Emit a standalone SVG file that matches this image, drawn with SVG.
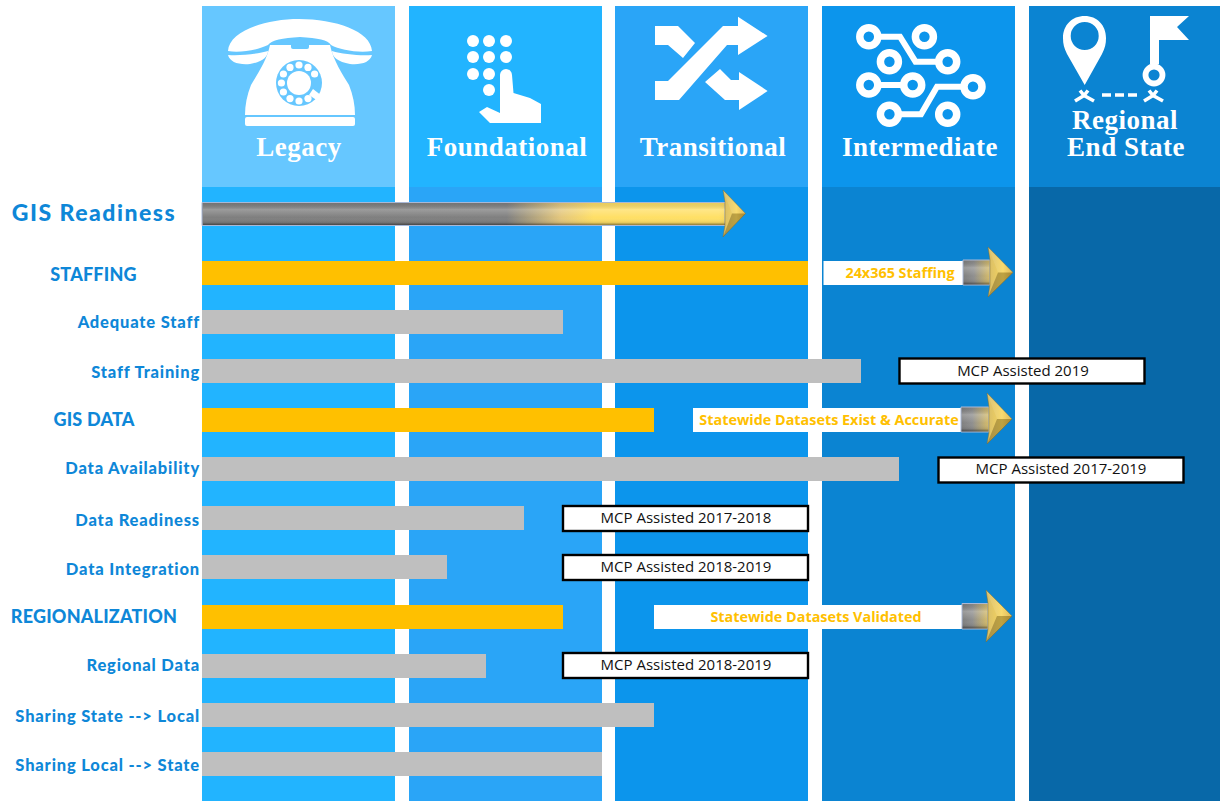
<svg xmlns="http://www.w3.org/2000/svg" width="1220" height="801" viewBox="0 0 1220 801">
<style>
.hd{font:700 27px "Liberation Serif",serif;fill:#fff;text-anchor:middle;letter-spacing:.5px}
.lb{font:900 16.5px "Lato","Liberation Sans",sans-serif;fill:#0E87D8;text-anchor:end;letter-spacing:.82px}
.sec{font:900 18px "Lato","Liberation Sans",sans-serif;fill:#0E87D8;text-anchor:middle;letter-spacing:.2px}
.gold{font:700 14.400px "Open Sans","Liberation Sans",sans-serif;fill:#FFC000;text-anchor:middle}
.mcp{font:400 15px "Open Sans","Liberation Sans",sans-serif;fill:#111;text-anchor:middle}
.or{fill:#FFC000}.gr{fill:#BFBFBF}.wh{fill:#fff}
.box{fill:#fff;stroke:#000;stroke-width:2.4}
.ic{fill:#fff}
.shaft{stroke:#A9B8D6;stroke-width:1}
.head{stroke:#7D6A2E;stroke-opacity:.45;stroke-width:1;fill:url(#headG)}
.light{fill:#fff;fill-opacity:.1}.dark{fill:#3A2A00;fill-opacity:.3}
</style>
<defs>
<linearGradient id="mainG" gradientUnits="userSpaceOnUse" x1="202" y1="0" x2="746" y2="0">
<stop offset="0" stop-color="#7F7F7F"/><stop offset=".56" stop-color="#808080"/><stop offset=".66" stop-color="#E4C77C"/><stop offset=".72" stop-color="#FFDF66"/><stop offset=".95" stop-color="#FFE066"/><stop offset="1" stop-color="#E8C04A"/>
</linearGradient>
<linearGradient id="bev" x1="0" y1="0" x2="0" y2="1">
<stop offset="0" stop-color="#000" stop-opacity=".08"/><stop offset=".3" stop-color="#fff" stop-opacity=".22"/><stop offset=".65" stop-color="#fff" stop-opacity="0"/><stop offset=".88" stop-color="#000" stop-opacity=".08"/><stop offset="1" stop-color="#000" stop-opacity=".45"/>
</linearGradient>
<linearGradient id="smG" x1="0" y1="0" x2="1" y2="0">
<stop offset="0" stop-color="#7F7F7F"/><stop offset=".4" stop-color="#8F8F8F"/><stop offset="1" stop-color="#D6BC68"/>
</linearGradient>
<linearGradient id="headG" x1="0" y1="0" x2="1" y2="0">
<stop offset="0" stop-color="#D6BC68"/><stop offset=".6" stop-color="#F7D65F"/><stop offset="1" stop-color="#D9B048"/>
</linearGradient>
</defs>

<g id="columns">
<rect x="202" y="6" width="193" height="181" fill="#66C7FF"/><rect x="202" y="187" width="193" height="614" fill="#22B4FF"/>
<rect x="409" y="6" width="193" height="181" fill="#22B4FF"/><rect x="409" y="187" width="193" height="614" fill="#2AA5F7"/>
<rect x="615" y="6" width="193" height="181" fill="#2AA5F7"/><rect x="615" y="187" width="193" height="614" fill="#0C95EC"/>
<rect x="822" y="6" width="193" height="181" fill="#0C95EC"/><rect x="822" y="187" width="193" height="614" fill="#0B84D2"/>
<rect x="1029" y="6" width="191" height="181" fill="#0B84D2"/><rect x="1029" y="187" width="191" height="614" fill="#0868A8"/>
</g>

<g id="legacy">
<path class="ic" d="M228,51C229,31 265,19 299,19C335,19 371,31 372,51C358,53 340,50 331,45C328,40 318,38 300,37C282,38 272,40 268,45C258,50 240,53 228,51Z"/>
<path class="ic" d="M228,55C240,56 258,54 268,51C268,57 262,62 250,64C238,65 230,62 228,55Z"/>
<path class="ic" d="M372,55C360,56 342,54 332,51C332,57 338,62 350,64C362,65 370,62 372,55Z"/>
<path class="ic" d="M270,45L330,45C333,60 343,75 349,85C353,95 355,105 355,115L245,115C245,105 247,95 251,85C257,75 267,60 270,45Z"/>
<rect class="ic" x="245" y="117" width="110" height="9" rx="2"/>
<rect x="291" y="38" width="18" height="11" rx="2" fill="#66C7FF"/>
<circle cx="299" cy="83" r="23" fill="#66C7FF"/>
<g class="ic">
<circle cx="299" cy="65" r="3.600"/><circle cx="308" cy="67.400" r="3.600"/><circle cx="314.600" cy="74" r="3.600"/><circle cx="281.400" cy="83" r="3.600"/><circle cx="283.400" cy="74" r="3.600"/><circle cx="290" cy="67.400" r="3.600"/><circle cx="283.400" cy="92" r="3.600"/><circle cx="290" cy="98.600" r="3.600"/><circle cx="299" cy="101" r="3.600"/><circle cx="308" cy="98.600" r="3.600"/>
<path d="M313,89L322,96L318,101L309,95Z"/>
<circle cx="299" cy="83" r="12"/>
</g>
<text class="hd" x="299" y="155.500">Legacy</text>
</g>

<g id="foundational">
<g class="ic">
<circle cx="473" cy="41" r="6"/><circle cx="489" cy="41" r="6"/><circle cx="506" cy="41" r="6"/>
<circle cx="473" cy="57" r="6"/><circle cx="489" cy="57" r="6"/><circle cx="506" cy="57" r="6"/>
<circle cx="473" cy="74" r="6"/><circle cx="489" cy="74" r="6"/><circle cx="489" cy="90" r="6"/>
<path d="M500,75A6,6 0 0 1 512,75L513.500,93L530,98L541,104L541,123L490,123L479,112L487,107L500,113Z"/>
</g>
<text class="hd" x="507" y="155.500">Foundational</text>
</g>

<g id="transitional">
<g class="ic">
<path d="M655,81L655,100L679,100L727,45L738,45L738,55L767.600,36L738,16.700L738,26L723,26L668,81Z"/>
<path d="M655,26L678,26L695,43L683,58L668,45L655,45Z"/>
<path d="M705,82L720,69L731,80L739,80L739,72L767.600,91L739,110L739,100L725,100Z"/>
</g>
<text class="hd" x="713" y="155.500">Transitional</text>
</g>

<g id="intermediate">
<g fill="none" stroke="#fff" stroke-width="6">
<path d="M868.800,36.700H900L915.500,61.700H947.700"/><path d="M868.800,85H912.700"/><path d="M973,86.700H937L921,114.300H889.400"/>
</g>
<g fill="#0C95EC" stroke="#fff" stroke-width="7.500">
<circle cx="868.800" cy="36.700" r="9"/><circle cx="924.400" cy="36.700" r="9"/><circle cx="889.400" cy="61.700" r="9"/><circle cx="947.700" cy="61.700" r="9"/><circle cx="868.800" cy="85" r="9"/><circle cx="912.700" cy="85" r="9"/><circle cx="973" cy="86.700" r="9"/><circle cx="889.400" cy="114.300" r="9"/><circle cx="947.700" cy="114.300" r="9"/>
</g>
<text class="hd" x="920" y="155.500">Intermediate</text>
</g>

<g id="regional-end-state">
<path class="ic" fill-rule="evenodd" d="M1084.700,85L1067,54C1064,48 1063,44 1063,38C1063,25 1072,16 1084.700,16C1097,16 1106,25 1106,38C1106,44 1105,48 1102,54ZM1084.700,22A14,14 0 1 0 1084.701,50A14,14 0 1 0 1084.700,22Z"/>
<path class="ic" d="M1150,16H1189L1177,27L1189,40H1159V64H1150Z"/>
<circle cx="1154" cy="75" r="8.500" fill="#0B84D2" stroke="#fff" stroke-width="5.800"/>
<g fill="none" stroke="#fff" stroke-width="3.600">
<path d="M1075,101L1084,95.500L1094,101M1084,95.500L1080,90.500M1084,95.500L1088,90.500"/>
<path d="M1144,101L1153,95.500L1163,101M1153,95.500L1149,90.500M1153,95.500L1157,90.500"/>
<path d="M1102,95H1138" stroke-dasharray="9 4"/>
</g>
<text class="hd" x="1125" y="129">Regional</text>
<text class="hd" x="1126" y="155.500">End State</text>
</g>

<g id="gis-readiness">
<text class="sec" style="font-size:23px;letter-spacing:1.500px" x="94" y="221">GIS Readiness</text>
<path class="shaft" d="M202,202.500H725V225.500H202Z" fill="url(#mainG)"/>
<rect x="203" y="203" width="522" height="22" fill="url(#bev)"/>
<path class="head" d="M723,190L745.500,213.500L723,237L725,225V202Z"/>
<path class="light" d="M723,190L745.500,213.500L732,213.500Z"/><path class="dark" d="M723,237L745.500,213.500L732,213.500Z"/>
</g>

<g id="staffing">
<text class="sec" x="93.500" y="280.500">STAFFING</text>
<rect class="or" x="202" y="261" width="606" height="24"/>
<rect class="wh" x="823.500" y="261" width="139.500" height="24"/>
<text class="gold" x="900" y="278">24x365 Staffing</text>
<path class="shaft" d="M963,260H990V285H963Z" fill="url(#smG)"/>
<rect x="963.500" y="260.500" width="26" height="24" fill="url(#bev)"/>
<path class="head" d="M988,247L1013,272.500L988,297L990,285V260Z"/>
<path class="light" d="M988,247L1013,272.500L998,272.500Z"/><path class="dark" d="M988,297L1013,272.500L998,272.500Z"/>
</g>
<g id="adequate-staff"><text class="lb" x="200" y="327.500">Adequate Staff</text><rect class="gr" x="202" y="310" width="361" height="24"/></g>
<g id="staff-training"><text class="lb" x="200" y="377.500">Staff Training</text><rect class="gr" x="202" y="359" width="659" height="24"/>
<rect class="box" x="899.500" y="358.500" width="245" height="25"/><text class="mcp" x="1023" y="375.500">MCP Assisted 2019</text></g>

<g id="gis-data">
<text class="sec" x="94" y="425.500">GIS DATA</text>
<rect class="or" x="202" y="408" width="452" height="24"/>
<rect class="wh" x="693" y="408" width="268" height="24"/>
<text class="gold" x="829" y="425">Statewide Datasets Exist &amp; Accurate</text>
<path class="shaft" d="M961,407H989V432H961Z" fill="url(#smG)"/>
<rect x="961.500" y="407.500" width="27" height="24" fill="url(#bev)"/>
<path class="head" d="M987,393L1012,419L987,444L989,432V407Z"/>
<path class="light" d="M987,393L1012,419L997,419Z"/><path class="dark" d="M987,444L1012,419L997,419Z"/>
</g>
<g id="data-availability"><text class="lb" x="200" y="473.500">Data Availability</text><rect class="gr" x="202" y="457" width="697" height="24"/>
<rect class="box" x="938.500" y="457.500" width="245" height="25"/><text class="mcp" x="1061" y="473.500">MCP Assisted 2017-2019</text></g>
<g id="data-readiness"><text class="lb" x="200" y="525.500">Data Readiness</text><rect class="gr" x="202" y="506" width="322" height="24"/>
<rect class="box" x="563" y="506" width="245" height="25"/><text class="mcp" x="686" y="522.500">MCP Assisted 2017-2018</text></g>
<g id="data-integration"><text class="lb" x="200" y="574.500">Data Integration</text><rect class="gr" x="202" y="555" width="245" height="24"/>
<rect class="box" x="563" y="555" width="245" height="25"/><text class="mcp" x="686" y="571.500">MCP Assisted 2018-2019</text></g>

<g id="regionalization">
<text class="sec" x="94" y="622.500">REGIONALIZATION</text>
<rect class="or" x="202" y="605" width="361" height="24"/>
<rect class="wh" x="654" y="605" width="308" height="24"/>
<text class="gold" x="816" y="622">Statewide Datasets Validated</text>
<path class="shaft" d="M962,603.500H988V629H962Z" fill="url(#smG)"/>
<rect x="962.500" y="604" width="25" height="24.500" fill="url(#bev)"/>
<path class="head" d="M986,590L1012,616L986,642L988,629V603.500Z"/>
<path class="light" d="M986,590L1012,616L997,616Z"/><path class="dark" d="M986,642L1012,616L997,616Z"/>
</g>
<g id="regional-data"><text class="lb" x="200" y="670.500">Regional Data</text><rect class="gr" x="202" y="654" width="284" height="24"/>
<rect class="box" x="563" y="653" width="245" height="25"/><text class="mcp" x="686" y="669.500">MCP Assisted 2018-2019</text></g>
<g id="sharing-state-local"><text class="lb" x="200" y="721.500">Sharing State --&gt; Local</text><rect class="gr" x="202" y="703" width="452" height="24"/></g>
<g id="sharing-local-state"><text class="lb" x="200" y="770.500">Sharing Local --&gt; State</text><rect class="gr" x="202" y="752" width="400" height="24"/></g>
<g id="connectors"></g>
</svg>
